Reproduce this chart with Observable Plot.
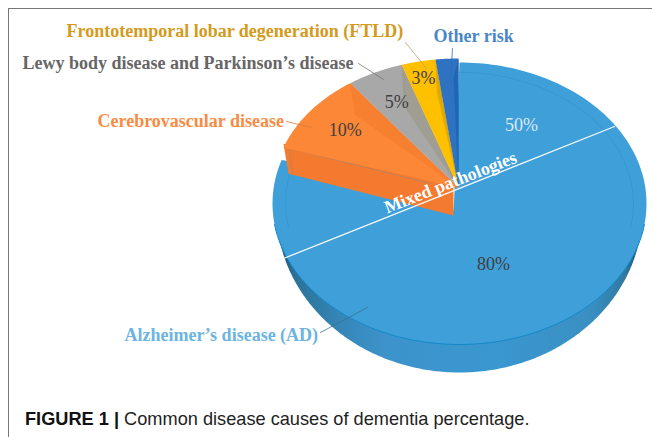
<!DOCTYPE html>
<html><head><meta charset="utf-8">
<script src="https://cdn.jsdelivr.net/npm/d3@7"></script>
<script src="https://cdn.jsdelivr.net/npm/@observablehq/plot@0.6"></script>
<style>
html,body{margin:0;padding:0;background:#fff;overflow:hidden}
#wrap{position:relative;width:652px;height:437px}
#frame{position:absolute;left:8px;top:8px;right:0;bottom:0;border-left:1.5px solid #777;border-top:1.5px solid #777;pointer-events:none}
#chart svg{display:block;position:absolute;left:0;top:0;background:none}
#cap{position:absolute;left:25px;top:408px;font:18.2px/22px "Liberation Sans",sans-serif;color:#222;white-space:nowrap}
#cap b{color:#111}
</style></head><body>
<div id="wrap"><div id="frame"></div><div id="chart"></div>
<div id="cap"><b>FIGURE 1 |</b> Common disease causes of dementia percentage.</div></div>
<script>
// Data (order: counter-clockwise from 12 o'clock)
const categories = ["Other risk","Frontotemporal lobar degeneration (FTLD)","Lewy body disease and Parkinson’s disease","Cerebrovascular disease","Alzheimer’s disease (AD)"];
const shares = [2,3,5,10,80];
const mixedShare = 50;
const mixedLabel = "Mixed pathologies";
// Styles
const topColors  = ["#2f72c2","#ffc000","#a8a8a8","#fc8736","#3f9fd9"];
const wallColors = ["#1f66b4","#e0a800","#a09e92","#f78030",null];
const textColors = ["#4a86c8","#d49a1c","#666666","#f98b45","#6cb4e2"];
// Layout
const disc = {cx:459, cy:203, rx:187, ry:141};
const base = {cx:459, cy:210, rx:183, ry:162};
const wedge = {cx:458, cy:187, rx:184, ry:129, depth:28};
const pctRadius = [0,.87,.74,.76,0];
const wallSpread = [.02,.02,.08,.1,0];
const wallReach = [.85,.75,.7,.8,0];
const labelX = [433,66,22,97,124];
const labelY = [36,31,63,121,335];
const leaderFrom = [[452,48],[405,42],[358,63],[286,121],[320,332]];
const leaderTo = [[450,80],[426,68],[383,79],[311,127],[367,307]];

const arcs = d3.pie().sort(null).startAngle(0).endAngle(2*Math.PI)(shares);
const pt = (g,a,r=1)=>[g.cx-g.rx*r*Math.sin(a), g.cy-g.ry*r*Math.cos(a)];
const sweep = (a0,a1,n=60)=>d3.range(n+1).map(i=>a0+(a1-a0)*i/n);
const poly = (pts,fill,extra={})=>Plot.line(pts,{x:d=>d[0],y:d=>d[1],fill,stroke:"none",curve:"linear",...extra});
const stroke = (pts,color,w=1,op=1)=>Plot.line(pts,{x:d=>d[0],y:d=>d[1],stroke:color,strokeWidth:w,strokeOpacity:op});
const defs = ()=>{
  const d=d3.create("svg:defs");
  const g=d.append("linearGradient").attr("id","side");
  [[0,"#1d4f6e"],[.05,"#2b7299"],[.18,"#3587b8"],[.3,"#3d93cb"],[.6,"#3a97d0"],[.86,"#3a8fc2"],[.95,"#2f7aa3"],[1,"#1d4f6e"]]
    .forEach(([o,c])=>g.append("stop").attr("offset",o).attr("stop-color",c));
  return d.node();
};

const ad = arcs[4], orange = arcs[3];
const apex = [wedge.cx,wedge.cy];
const oOut = pt(wedge,orange.endAngle);
const sideBottomInner = [apex[0]-5,apex[1]+wedge.depth];
const sideBottomOuter = [oOut[0]+5,oOut[1]+wedge.depth-2];
const orangeSide = [apex,[oOut[0],oOut[1]-4],sideBottomOuter,sideBottomInner,[apex[0]-5,apex[1]]];
// Alzheimer's disc: lower half of the base under the top face
const baseShape = sweep(Math.PI/2,3*Math.PI/2,200).map(a=>pt(base,a));
const adFace = [[apex[0]-6,apex[1]], ...sweep(ad.startAngle,ad.endAngle,200).map(a=>pt(disc,a)), sideBottomInner];
const frontEdge = sweep(1.72,2*Math.PI-1.72,120).map(a=>pt(disc,a));
const ring = sweep(-1.75,1.75,100).map(a=>pt(disc,a,.93));
// Dividing line of the mixed-pathologies share, through the disc
const mixedLine = [[278,260],[614,126]];

const faces=[], walls=[];
[3,2,1,0].forEach(i=>{
  const a=arcs[i];
  faces.push(poly([apex,...sweep(a.startAngle,a.endAngle,40).map(t=>pt(wedge,t))],topColors[i]));
  const sp=wallSpread[i]*2*Math.PI*.25;
  walls.push(poly([apex,pt(wedge,a.startAngle),pt(wedge,a.startAngle+sp,wallReach[i])],wallColors[i]));
});
const pctRows = arcs.map((a,i)=>({v:shares[i],r:pctRadius[i],mid:(a.startAngle+a.endAngle)/2})).filter(d=>d.r>0);
const pctFont = {fontFamily:"Liberation Serif",fontSize:18};

const plot = Plot.plot({
  width:652,height:400,margin:0,
  x:{domain:[0,652],range:[0,652],axis:null},
  y:{domain:[0,400],range:[0,400],axis:null},
  style:{background:"none"},
  marks:[
    defs,
    poly(baseShape,"url(#side)"),
    poly(adFace,topColors[4]),
    stroke(frontEdge,"#1389c8",1),
    stroke(ring,"#2b8fca",1,.45),
    poly(orangeSide,"#f47a2f"),
    stroke([[oOut[0]+6,oOut[1]+1],[apex[0]-28,apex[1]-4]],"#8a8a8a",.8,.6),
    stroke([[oOut[0]+6,oOut[1]+1],[oOut[0]+9,oOut[1]+27]],"#8a8a8a",.8,.6),
    ...faces.flatMap((f,i)=>[f,walls[i]]),
    stroke(mixedLine,"#f4f8fb",1.3),
    ...leaderFrom.map((p,i)=>stroke([p,leaderTo[i]],i===0?"#2d6fb8":i===1?"#b8a070":i===2?"#777":i===3?"#e07a3c":"#3a6f94",.8)),
    Plot.text(categories,{x:(d,i)=>labelX[i],y:(d,i)=>labelY[i],text:d=>d,fill:(d,i)=>textColors[i],textAnchor:"start",fontFamily:"Liberation Serif",fontWeight:"bold",fontSize:18}),
    Plot.text(pctRows,{x:d=>pt(wedge,d.mid,d.r)[0],y:d=>pt(wedge,d.mid,d.r)[1],text:d=>d.v+"%",fill:"#404040",...pctFont}),
    Plot.text([shares[4]],{x:[493],y:[264],text:d=>d+"%",fill:"#404040",...pctFont}),
    Plot.text([mixedShare],{x:[521],y:[125],text:d=>d+"%",fill:"#dbe9f3",...pctFont}),
    Plot.text([mixedLabel],{x:[450],y:[182],text:d=>d,rotate:-21.5,fill:"#fff",fontFamily:"Liberation Serif",fontWeight:"bold",fontSize:18})
  ]
});
document.getElementById("chart").appendChild(plot);
</script></body></html>
